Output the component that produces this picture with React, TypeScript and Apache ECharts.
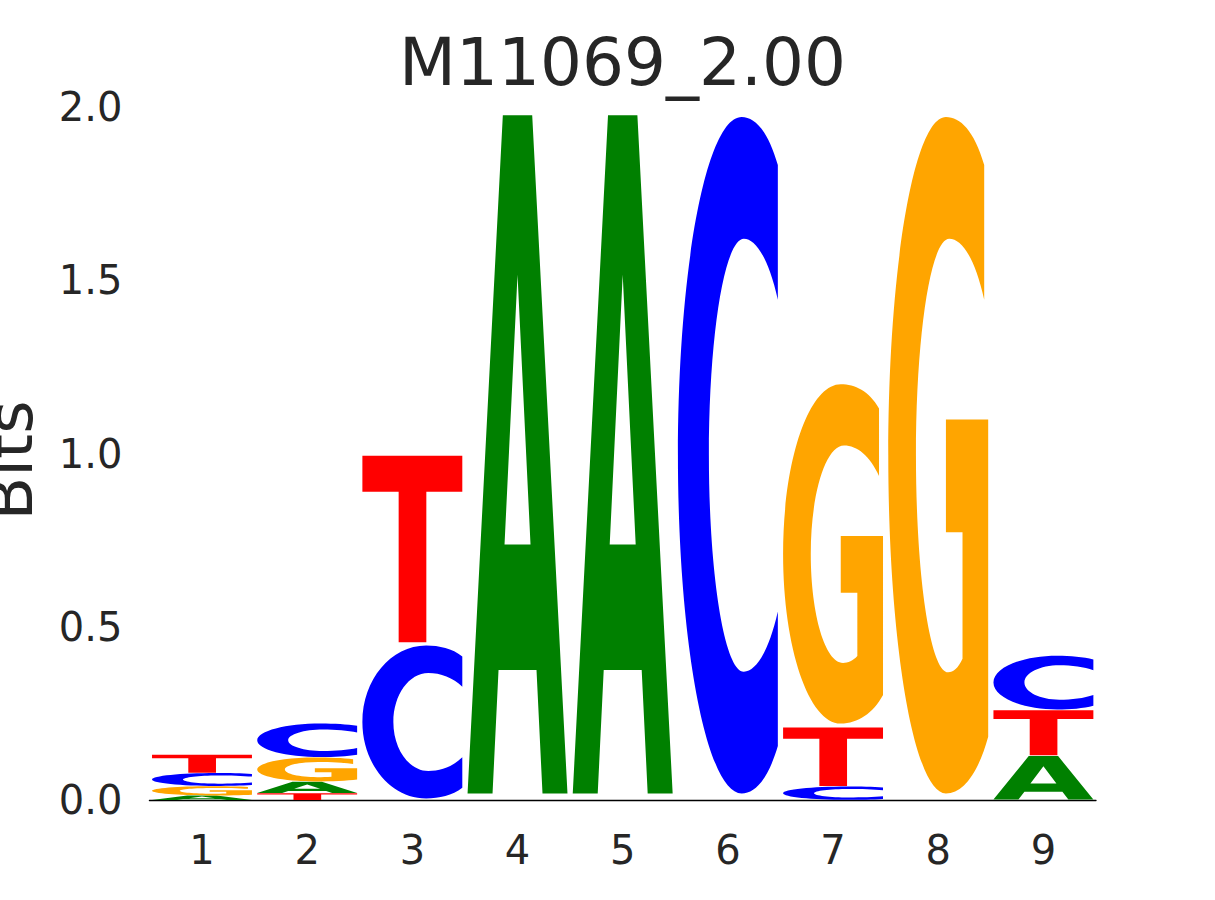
import React, { useEffect, useRef } from "react";
import * as echarts from "echarts";

// ---- data (bits per letter at each position) ----
const positions = ["1", "2", "3", "4", "5", "6", "7", "8", "9"];
const letters = ["A", "C", "G", "T"];
const bitsA = [0.013, 0.033, 0, 1.995, 1.995, 0, 0, 0, 0.128];
const bitsC = [0.038, 0.099, 0.45, 0, 0, 1.99, 0.039, 0, 0.158];
const bitsG = [0.027, 0.07, 0, 0, 0, 0, 0.998, 1.99, 0];
const bitsT = [0.053, 0.02, 0.549, 0, 0, 0, 0.172, 0, 0.132];
const yTicks = [0, 0.5, 1.0, 1.5, 2.0];
const titleText = "M11069_2.00";
const yName = "Bits";

const letterColors = ["#008000", "#0000ff", "#ffa500", "#ff0000"];

// glyph outlines in a 100x100 box (y down)
const glyphPaths = [
  // A
  "M0,100 L35.3,0 L64.7,0 L100,100 L75,100 L69,81.8 L31,81.8 L25,100 Z M37,63.3 L63,63.3 L50,23.5 Z",
  // C
  "M100,7.1 C90,2 77,0 63.8,0 C28.6,0 0,22.4 0,50 C0,77.6 28.6,100 63.8,100 C77,100 90,98 100,93 L100,73.1 C91,79 78,82 66,82 C46.7,82 31,67.7 31,50 C31,32.3 46.7,18 66,18 C78,18 91,21 100,27 Z",
  // G
  "M96,7.1 C86,2 72,0 57.7,0 C25.8,0 0,22.4 0,50 C0,77.6 25.8,100 57.7,100 C75,100 90,97 100,91.6 L100,44.7 L57.7,44.7 L57.7,61.4 L74.3,61.4 L74.3,80.1 C70,81.5 65,82.1 60,82.1 C42.3,82.1 27.7,68 27.7,50 C27.7,32.3 42.5,18 61,18 C74,18 87,21 96,27 Z",
  // T
  "M0,0 L100,0 L100,19.4 L64,19.4 L64,100 L36.3,100 L36.3,19.4 L0,19.4 Z",
];

function buildStacks() {
  const all = [bitsA, bitsC, bitsG, bitsT];
  const out: number[][] = [];
  positions.forEach((_, i) => {
    const items = letters
      .map((_, li) => ({ li, v: all[li][i] }))
      .filter((d) => d.v > 0)
      .sort((a, b) => a.v - b.v);
    let base = 0;
    items.forEach((d) => {
      out.push([i, base, base + d.v, d.li]);
      base += d.v;
    });
  });
  return out;
}

export default function App() {
  const ref = useRef<HTMLDivElement>(null);
  useEffect(() => {
    if (!ref.current) return;
    const chart = echarts.init(ref.current, null, { renderer: "svg" });
    const textColor = "#262626";
    const font = "DejaVu Sans";
    chart.setOption({
      animation: false,
      backgroundColor: "#ffffff",
      grid: { left: 149.4, right: 119, top: 107, bottom: 100, containLabel: false },
      xAxis: {
        type: "category",
        data: positions,
        axisLine: { show: true, lineStyle: { color: "#000000", width: 1.3 } },
        axisTick: { show: false },
        splitLine: { show: false },
        axisLabel: { color: textColor, fontSize: 40, fontFamily: font, margin: 30 },
      },
      yAxis: {
        type: "value",
        min: 0,
        max: 2,
        interval: 0.5,
        axisLine: { show: false },
        axisTick: { show: false },
        splitLine: { show: false },
        axisLabel: {
          color: textColor,
          fontSize: 40,
          fontFamily: font,
          margin: 27,
          padding: [12, 0, 0, 0],
          formatter: (v: number) => (yTicks.includes(v) ? v.toFixed(1) : ""),
        },
      },
      graphic: [
        {
          type: "text",
          x: 622.5,
          y: 62,
          style: {
            text: titleText,
            fill: textColor,
            font: `66px "${font}"`,
            textAlign: "center",
            textVerticalAlign: "middle",
          },
        },
        {
          type: "text",
          x: 10,
          y: 460.5,
          rotation: Math.PI / 2,
          style: {
            text: yName,
            fill: textColor,
            font: `64px "${font}"`,
            textAlign: "center",
            textVerticalAlign: "middle",
          },
        },
      ],
      series: [
        {
          type: "custom",
          data: buildStacks(),
          encode: { x: 0, y: [1, 2] },
          renderItem: (params: any, api: any) => {
            const i = api.value(0);
            const b = api.value(1);
            const t = api.value(2);
            const li = api.value(3);
            const pad = 0.0095 * (t - b);
            const pTop = api.coord([i, t - pad]);
            const pBot = api.coord([i, b + pad]);
            const bw = api.size([1, 0])[0] * 0.95;
            return {
              type: "path",
              shape: {
                pathData: glyphPaths[li],
                x: pTop[0] - bw / 2,
                y: pTop[1],
                width: bw,
                height: Math.max(0.5, pBot[1] - pTop[1]),
                layout: "cover",
              },
              style: { fill: letterColors[li] },
            };
          },
        },
      ],
    });
    return () => chart.dispose();
  }, []);
  return (
    <div
      ref={ref}
      style={{ position: "absolute", left: 0, top: 0, width: 1215, height: 900 }}
    />
  );
}
